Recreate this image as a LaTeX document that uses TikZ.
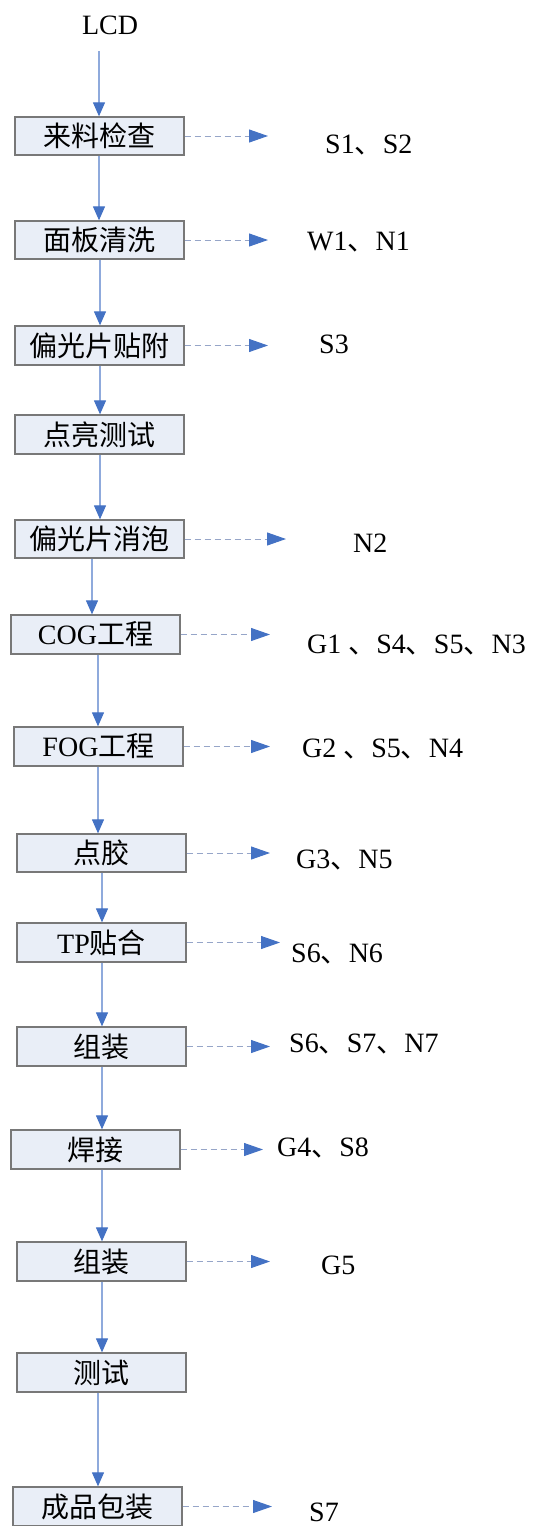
\documentclass[tikz,border=0pt]{standalone}
\usepackage{fontspec}
\setmainfont{Liberation Serif}
\newfontfamily\cjk{Noto Sans CJK SC}
\usetikzlibrary{arrows.meta}
\definecolor{boxfill}{RGB}{233,238,247}
\definecolor{boxdraw}{RGB}{120,120,120}
\definecolor{linec}{RGB}{143,170,220}
\definecolor{tipc}{RGB}{68,114,196}
\definecolor{dashc}{RGB}{150,165,200}
\begin{document}
\begin{tikzpicture}[x=1pt,y=-1pt,
  font=\fontsize{28}{34}\selectfont,
  box/.style={draw=boxdraw, line width=1.3pt, fill=boxfill, minimum width=169pt, minimum height=38pt, inner sep=0pt},
  flow/.style={draw=linec, line width=1.2pt, -{Triangle[length=14pt,width=12pt,color=tipc]}},
  emit/.style={draw=dashc, line width=1pt, dash pattern=on 6pt off 4pt, -{Triangle[length=19pt,width=13pt,color=tipc]}},
  lbl/.style={anchor=base west, inner sep=0pt}]
\useasboundingbox (0,0) rectangle (533,1526);

% columns for vertical connectors
\coordinate (x92) at (92,0);
\coordinate (x98) at (98,0);
\coordinate (x99) at (99,0);
\coordinate (x100) at (100,0);
\coordinate (x102) at (102,0);
% tips of the outgoing arrows
\coordinate (e263) at (263,0);
\coordinate (e268) at (268,0);
\coordinate (e270) at (270,0);
\coordinate (e272) at (272,0);
\coordinate (e280) at (280,0);
\coordinate (e286) at (286,0);

\node[inner sep=0pt, minimum height=51pt] (lcd) at (110,25.5) {LCD};

\node[box] (b1) at (99.5,136) {{\cjk 来料检查}};
\node[box] (b2) at (99.5,240) {{\cjk 面板清洗}};
\node[box, minimum height=39pt] (b3) at (99.5,345.5) {{\cjk 偏光片贴附}};
\node[box, minimum height=39pt] (b4) at (99.5,434.5) {{\cjk 点亮测试}};
\node[box] (b5) at (99.5,539) {{\cjk 偏光片消泡}};
\node[box, minimum height=39pt] (b6) at (95.5,634.5) {COG{\cjk 工程}};
\node[box, minimum height=39pt] (b7) at (98.5,746.5) {FOG{\cjk 工程}};
\node[box] (b8) at (101.5,853) {{\cjk 点胶}};
\node[box, minimum height=39pt] (b9) at (101.5,942.5) {TP{\cjk 贴合}};
\node[box, minimum height=39pt] (b10) at (101.5,1046.5) {{\cjk 组装}};
\node[box, minimum height=39pt] (b11) at (95.5,1149.5) {{\cjk 焊接}};
\node[box, minimum height=39pt] (b12) at (101.5,1261.5) {{\cjk 组装}};
\node[box, minimum height=39pt] (b13) at (101.5,1372.5) {{\cjk 测试}};
\node[box, minimum height=39pt] (b14) at (97.5,1506.5) {{\cjk 成品包装}};

% main flow
\draw[flow] (lcd.south -| x99) -- (b1.north -| x99);
\draw[flow] (b1.south -| x99) -- (b2.north -| x99);
\draw[flow] (b2.south -| x100) -- (b3.north -| x100);
\draw[flow] (b3.south -| x100) -- (b4.north -| x100);
\draw[flow] (b4.south -| x100) -- (b5.north -| x100);
\draw[flow] (b5.south -| x92) -- (b6.north -| x92);
\draw[flow] (b6.south -| x98) -- (b7.north -| x98);
\draw[flow] (b7.south -| x98) -- (b8.north -| x98);
\draw[flow] (b8.south -| x102) -- (b9.north -| x102);
\draw[flow] (b9.south -| x102) -- (b10.north -| x102);
\draw[flow] (b10.south -| x102) -- (b11.north -| x102);
\draw[flow] (b11.south -| x102) -- (b12.north -| x102);
\draw[flow] (b12.south -| x102) -- (b13.north -| x102);
\draw[flow] (b13.south -| x98) -- (b14.north -| x98);

% outputs
\draw[emit] (b1.east) -- (b1.east -| e268);
\draw[emit] (b2.east) -- (b2.east -| e268);
\draw[emit] (b3.east) -- (b3.east -| e268);
\draw[emit] (b5.east) -- (b5.east -| e286);
\draw[emit] (b6.east) -- (b6.east -| e270);
\draw[emit] (b7.east) -- (b7.east -| e270);
\draw[emit] (b8.east) -- (b8.east -| e270);
\draw[emit] (b9.east) -- (b9.east -| e280);
\draw[emit] (b10.east) -- (b10.east -| e270);
\draw[emit] (b11.east) -- (b11.east -| e263);
\draw[emit] (b12.east) -- (b12.east -| e270);
\draw[emit] (b14.east) -- (b14.east -| e272);

\node[lbl] (l1) at (325,153) {S1{\cjk 、}S2};
\node[lbl] (l2) at (307,250) {W1{\cjk 、}N1};
\node[lbl] (l3) at (319,353) {S3};
\node[lbl] (l5) at (353,552) {N2};
\node[lbl] (l6) at (307,653) {G1 {\cjk 、}S4{\cjk 、}S5{\cjk 、}N3};
\node[lbl] (l7) at (302,757) {G2 {\cjk 、}S5{\cjk 、}N4};
\node[lbl] (l8) at (296,868) {G3{\cjk 、}N5};
\node[lbl] (l9) at (291,962) {S6{\cjk 、}N6};
\node[lbl] (l10) at (289,1052) {S6{\cjk 、}S7{\cjk 、}N7};
\node[lbl] (l11) at (277,1156) {G4{\cjk 、}S8};
\node[lbl] (l12) at (321,1274) {G5};
\node[lbl] (l14) at (309,1521) {S7};
\end{tikzpicture}
\end{document}
